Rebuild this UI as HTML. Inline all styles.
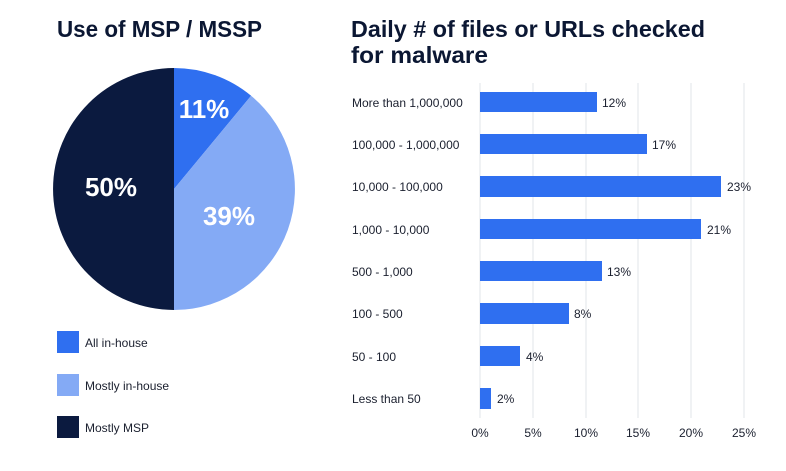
<!DOCTYPE html>
<html><head><meta charset="utf-8"><style>
html,body{margin:0;padding:0;background:#fff;}
svg{display:block;font-family:"Liberation Sans",sans-serif;}
</style></head><body>
<svg width="786" height="471" viewBox="0 0 786 471" xmlns="http://www.w3.org/2000/svg">
<rect width="786" height="471" fill="#fff"/>
<text x="57" y="37" font-size="23" font-weight="bold" fill="#0b1733" textLength="205" lengthAdjust="spacingAndGlyphs">Use of MSP / MSSP</text>
<text x="351" y="37" font-size="23" font-weight="bold" fill="#0b1733" textLength="354" lengthAdjust="spacingAndGlyphs">Daily # of files or URLs checked</text>
<text x="351" y="63" font-size="23" font-weight="bold" fill="#0b1733" textLength="137" lengthAdjust="spacingAndGlyphs">for malware</text>
<!-- pie -->
<path d="M174 189 L174 68 A121 121 0 0 1 251.1 95.8 Z" fill="#2f6ff0"/>
<path d="M174 189 L251.1 95.8 A121 121 0 0 1 174 310 Z" fill="#84aaf5"/>
<path d="M174 189 L174 310 A121 121 0 0 1 174 68 Z" fill="#0b1a3f"/>
<text x="204" y="118" font-size="26" font-weight="bold" fill="#fff" text-anchor="middle">11%</text>
<text x="229" y="225" font-size="26" font-weight="bold" fill="#fff" text-anchor="middle">39%</text>
<text x="111" y="196" font-size="26" font-weight="bold" fill="#fff" text-anchor="middle">50%</text>
<!-- legend -->
<rect x="57" y="331" width="22" height="22" fill="#2f6ff0"/>
<text x="85" y="347" font-size="12" fill="#1a1f2e">All in-house</text>
<rect x="57" y="374" width="22" height="22" fill="#84aaf5"/>
<text x="85" y="390" font-size="12" fill="#1a1f2e">Mostly in-house</text>
<rect x="57" y="416" width="22" height="22" fill="#0b1a3f"/>
<text x="85" y="432" font-size="12" fill="#1a1f2e">Mostly MSP</text>
<!-- grid -->
<g stroke="#e2e4ea" stroke-width="1">
<line x1="480" y1="83" x2="480" y2="418"/>
<line x1="533" y1="83" x2="533" y2="418"/>
<line x1="586" y1="83" x2="586" y2="418"/>
<line x1="638" y1="83" x2="638" y2="418"/>
<line x1="691" y1="83" x2="691" y2="418"/>
<line x1="744" y1="83" x2="744" y2="418"/>
</g>
<g font-size="12" fill="#1a1f2e" text-anchor="middle">
<text x="480" y="437">0%</text><text x="533" y="437">5%</text><text x="586" y="437">10%</text>
<text x="638" y="437">15%</text><text x="691" y="437">20%</text><text x="744" y="437">25%</text>
</g>
<g fill="#2f6ff0">
<rect x="480" y="92" width="117" height="20"/>
<rect x="480" y="134" width="167" height="20"/>
<rect x="480" y="176" width="241" height="21"/>
<rect x="480" y="219" width="221" height="20"/>
<rect x="480" y="261" width="122" height="20"/>
<rect x="480" y="303" width="89" height="21"/>
<rect x="480" y="346" width="40" height="20"/>
<rect x="480" y="388" width="11" height="21"/>
</g>
<g font-size="12" fill="#1a1f2e">
<text x="352" y="107">More than 1,000,000</text><text x="602" y="107">12%</text>
<text x="352" y="149">100,000 - 1,000,000</text><text x="652" y="149">17%</text>
<text x="352" y="191">10,000 - 100,000</text><text x="727" y="191">23%</text>
<text x="352" y="234">1,000 - 10,000</text><text x="707" y="234">21%</text>
<text x="352" y="276">500 - 1,000</text><text x="607" y="276">13%</text>
<text x="352" y="318">100 - 500</text><text x="574" y="318">8%</text>
<text x="352" y="361">50 - 100</text><text x="526" y="361">4%</text>
<text x="352" y="403">Less than 50</text><text x="497" y="403">2%</text>
</g>
</svg>
</body></html>
